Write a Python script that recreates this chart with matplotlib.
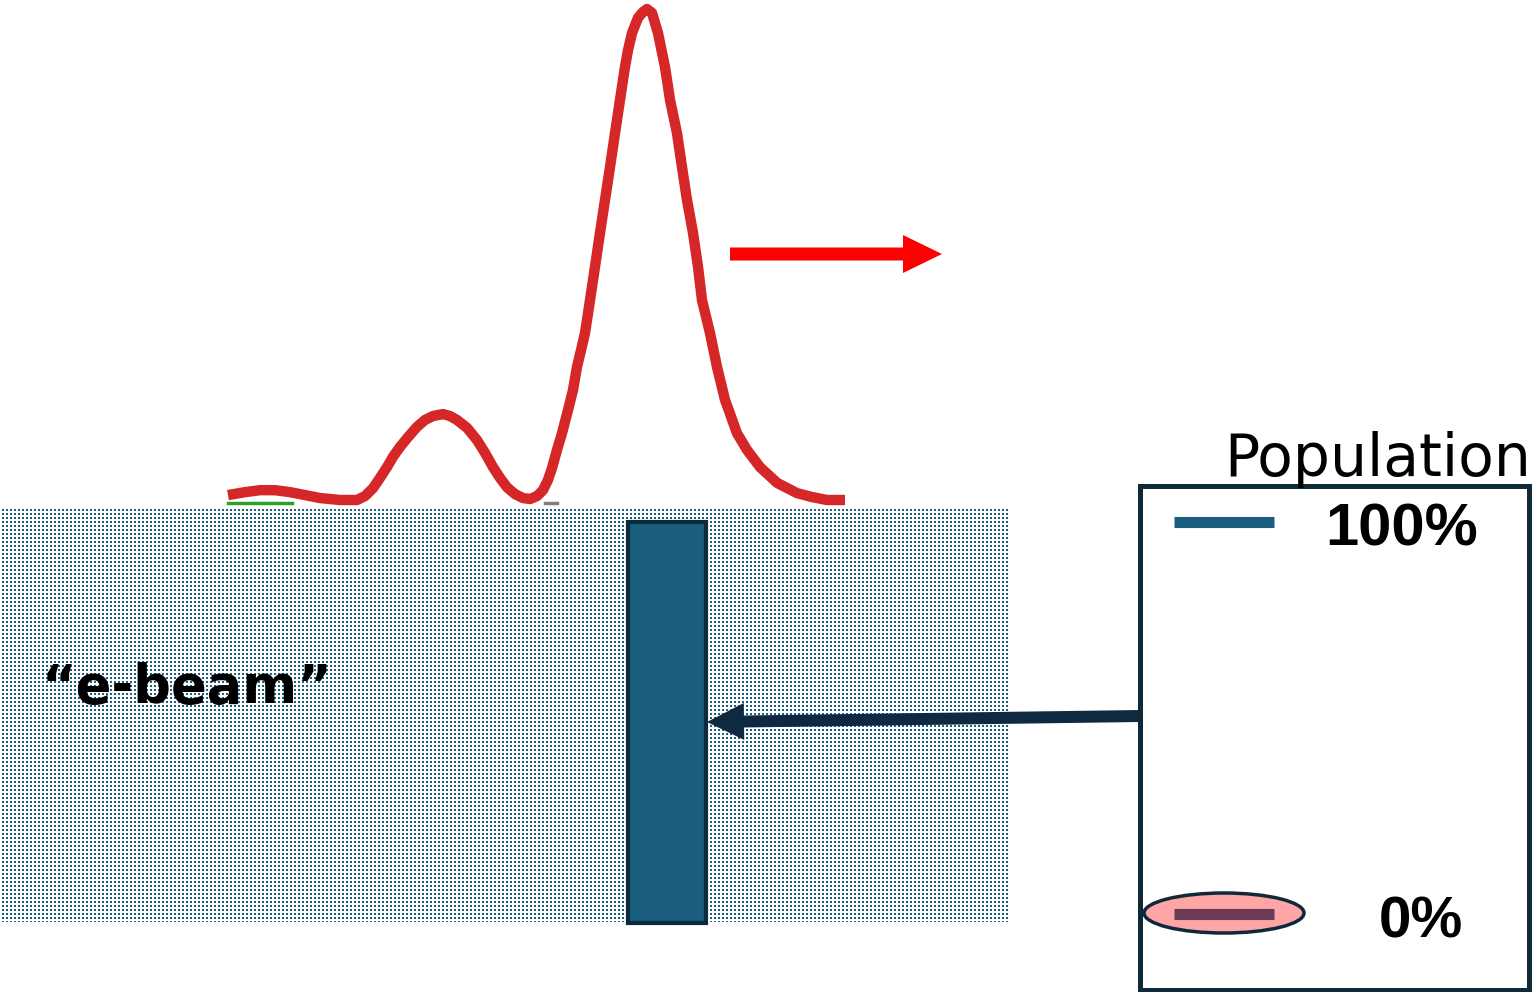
import numpy as np
import matplotlib.pyplot as plt
from matplotlib import patches

# canvas in pixels
W, H = 1532, 992

# pulse profile (position, normalised intensity)
pulse_pos = [228, 245, 260, 275, 290, 305, 320, 340, 357, 365, 373, 380, 387, 393,
             400, 408, 417, 425, 433, 443, 450, 457, 467, 477, 485, 493, 500, 507,
             515, 523, 530, 537, 543, 548, 552, 557, 562, 568, 573, 577, 581, 585,
             590, 595, 600, 605, 610, 615, 620, 625, 628, 632, 638, 643, 647, 652,
             658, 665, 670, 677, 682, 687, 693, 698, 702, 710, 717, 725, 737, 747,
             760, 777, 797, 812, 827, 845]
pulse_int = [0.010, 0.016, 0.020, 0.020, 0.016, 0.010, 0.004, 0.000, 0.000, 0.008,
             0.024, 0.045, 0.067, 0.088, 0.108, 0.128, 0.149, 0.163, 0.171, 0.175,
             0.171, 0.163, 0.147, 0.122, 0.096, 0.067, 0.045, 0.026, 0.012, 0.004,
             0.002, 0.008, 0.020, 0.041, 0.065, 0.102, 0.136, 0.183, 0.224, 0.271,
             0.305, 0.340, 0.407, 0.475, 0.544, 0.611, 0.678, 0.747, 0.815, 0.882,
             0.916, 0.951, 0.982, 0.994, 1.000, 0.992, 0.951, 0.882, 0.815, 0.747,
             0.678, 0.611, 0.544, 0.475, 0.407, 0.340, 0.271, 0.204, 0.136, 0.102,
             0.067, 0.035, 0.014, 0.006, 0.000, 0.000]

# faint series hidden under the pulse
green_pos = [228, 292]
green_int = [-0.006, -0.006]
gray_pos = [545, 557]
gray_int = [-0.006, -0.006]

legend_labels = ['100%', '0%']
beam_label = '\u201ce-beam\u201d'
legend_title = 'Population'

RED = '#d62728'
BAR = '#1a5f80'
NAVY = '#0f2a40'

fig = plt.figure(figsize=(W / 100, H / 100), dpi=100)

# stippled sample region, placed pixel for pixel
x0, x1, y0, y1 = 0, 1008, 507, 922
yy, xx = np.mgrid[0:y1 - y0, 0:x1 - x0]
dots = ((yy % 4) >= 2) & ((xx % 4) >= 2)
tex = np.zeros(dots.shape + (4,))
tex[dots] = [0x1d / 255, 0x5f / 255, 0x80 / 255, 1.0]
fig.figimage(tex, xo=x0, yo=H - y1, origin='upper', zorder=0)

ax = fig.add_axes([0, 0, 1, 1])
ax.set_zorder(1)
ax.patch.set_visible(False)
ax.set_xlim(0, W)
ax.set_ylim(H, 0)
ax.axis('off')

# beam bar
ax.add_patch(patches.Rectangle((628, 522), 78, 401, facecolor=BAR,
                               edgecolor='#0b2a3c', linewidth=3, zorder=3))

ax.text(42, 703, beam_label, fontsize=38, fontweight='bold',
        family='DejaVu Sans', ha='left', va='baseline', zorder=4)

# arrows
ax.add_patch(patches.FancyArrow(730, 254, 212, 0, width=13, head_width=38,
                                head_length=39, length_includes_head=True,
                                color='red', linewidth=0, zorder=4))
ax.add_patch(patches.FancyArrow(1140, 716, -433, 6, width=12, head_width=37,
                                head_length=37, length_includes_head=True,
                                color=NAVY, linewidth=0, zorder=4))

# population legend box
ax.add_patch(patches.Rectangle((1140, 486), 389, 504, facecolor='white',
                               edgecolor='#0e2a3a', linewidth=3.6, zorder=5,
                               clip_on=False))
ax.text(1224, 476, legend_title, fontsize=42, family='DejaVu Sans',
        ha='left', va='baseline', zorder=6)
ax.plot([1174, 1274], [521.5, 521.5], color=BAR, linewidth=8, solid_capstyle='butt', zorder=6)
ax.text(1325, 546, legend_labels[0], fontsize=43, fontweight='bold',
        family='Liberation Sans', ha='left', va='baseline', zorder=6)
ax.add_patch(patches.Ellipse((1224, 913), 160, 40, facecolor='#ffa5a5',
                             edgecolor='#0e2a3a', linewidth=2.5, zorder=6))
ax.plot([1174, 1274], [913.5, 913.5], color='#6b3b55', linewidth=8,
        solid_capstyle='butt', zorder=7)
ax.text(1379, 938, legend_labels[1], fontsize=42, fontweight='bold',
        family='Liberation Sans', ha='left', va='baseline', zorder=6)

# pulse on its own intensity scale
axp = fig.add_axes([0, (H - 500) / H, 1, 491 / H])
axp.set_zorder(2)
axp.set_xlim(0, W)
axp.set_ylim(0, 1)
axp.axis('off')
axp.patch.set_visible(False)
axp.plot(green_pos, green_int, color='tab:green', linewidth=2.5, clip_on=False)
axp.plot(gray_pos, gray_int, color='tab:gray', linewidth=2.5, clip_on=False)
axp.plot(pulse_pos, pulse_int, color=RED, linewidth=7.5, clip_on=False,
         solid_joinstyle='round', solid_capstyle='butt')

fig.savefig('out.png', dpi=100)
